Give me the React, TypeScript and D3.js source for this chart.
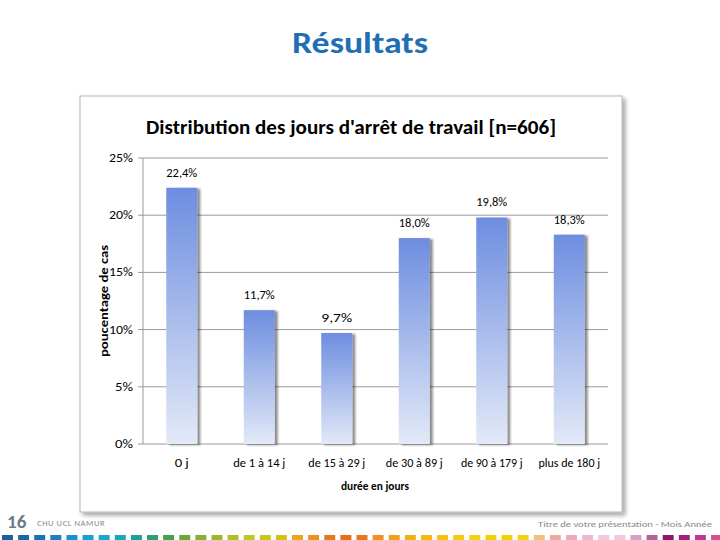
import React from 'react';
import * as d3 from 'd3';

const categories = ['0 j', 'de 1 à 14 j', 'de 15 à 29 j', 'de 30 à 89 j', 'de 90 à 179 j', 'plus de 180 j'];
const values = [22.4, 11.7, 9.7, 18.0, 19.8, 18.3];
const yTicks = [0, 5, 10, 15, 20, 25];

const stripColors = [
  '#1f5f9f', '#1b68a8', '#1873b5', '#1a80c0', '#1a90cc', '#19a0d0', '#1aa8c8', '#18a8b0', '#20a090',
  '#2aa078', '#4aa050', '#6aa83a', '#88b030', '#a0b828', '#b0c020', '#c0c820', '#c8c818', '#d8c010',
  '#e8a818', '#e89020', '#e87818', '#e87010', '#e87818', '#f09020', '#f0a018', '#f0b010', '#f8b810',
  '#f8c010', '#f8c810', '#f8d010', '#f8d000', '#f8d000', '#f8d010', '#f0c080', '#f0a8a0', '#f0a8c0',
  '#f0b8d0', '#f0c8e0', '#f0c8e0', '#d8a0c8', '#b86098', '#901870', '#a02080', '#c03890', '#d85090',
];

const W = 720;
const H = 540;
const font = 'Calibri, Carlito, Lato, "Open Sans", "Liberation Sans", sans-serif';

export default function App() {
  const x = d3.scaleBand<string>().domain(categories).range([143, 608]).paddingInner(0.6).paddingOuter(0.3);
  const y = d3.scaleLinear().domain([0, 25]).range([444, 158]);
  const fmt = (v: number) => v.toFixed(1).replace('.', ',') + '%';
  const stripX = d3.scaleBand<number>().domain(d3.range(stripColors.length)).range([2, 722]).paddingInner(0.32);

  return (
    <svg width={W} height={H} style={{ position: 'absolute', left: 0, top: 0 }}>
      <defs>
        <linearGradient id="barGrad" x1="0" y1="0" x2="0" y2="1">
          <stop offset="0%" stopColor="#6d8de0" />
          <stop offset="100%" stopColor="#e2e9f7" />
        </linearGradient>
        <filter id="shadow" x="-10%" y="-10%" width="130%" height="130%">
          <feDropShadow dx="3" dy="3" stdDeviation="2" floodColor="#000" floodOpacity="0.35" />
        </filter>
        <filter id="barShadow" x="-20%" y="-5%" width="150%" height="110%">
          <feDropShadow dx="3" dy="1" stdDeviation="1.2" floodColor="#000" floodOpacity="0.45" />
        </filter>
      </defs>
      <rect width={W} height={H} fill="#fff" />

      <text x={360} y={53} textAnchor="middle" fontFamily={font} fontWeight="bold" fontSize={30} fill="#1f6fb4"
        textLength={136} lengthAdjust="spacingAndGlyphs">
        Résultats
      </text>

      {/* chart frame */}
      <rect x={80} y={96} width={542} height={416} fill="#fff" stroke="#b4b4b4" strokeWidth={1} filter="url(#shadow)" />

      <text x={351} y={134} textAnchor="middle" fontFamily={font} fontWeight="bold" fontSize={21}
        fill="#000" textLength={410} lengthAdjust="spacingAndGlyphs">
        Distribution des jours d'arrêt de travail [n=606]
      </text>

      {/* grid */}
      {yTicks.map(t => (
        <g key={t}>
          <line x1={138} x2={608} y1={y(t)} y2={y(t)} stroke="#9a9a9a" strokeWidth={1} />
          <text x={133} y={y(t) + 4} textAnchor="end" fontFamily={font} fontSize={11.5} fill="#000"
            textLength={t < 10 ? 18 : 24} lengthAdjust="spacingAndGlyphs">
            {t}%
          </text>
        </g>
      ))}
      <line x1={143} x2={143} y1={158} y2={444} stroke="#9a9a9a" strokeWidth={1} />

      {/* bars */}
      {values.map((v, i) => (
        <g key={categories[i]}>
          <rect x={x(categories[i])!} y={y(v)} width={x.bandwidth()} height={y(0) - y(v)}
            fill="url(#barGrad)" filter="url(#barShadow)" />
          <text x={x(categories[i])! + x.bandwidth() / 2} y={y(v) - 11} textAnchor="middle"
            fontFamily={font} fontSize={12.5} fill="#000" textLength={31} lengthAdjust="spacingAndGlyphs">
            {fmt(v)}
          </text>
        </g>
      ))}

      {/* x labels */}
      {categories.map(c => (
        <text key={c} x={x(c)! + x.bandwidth() / 2} y={467} textAnchor="middle" fontFamily={font}
          fontSize={12.5} fill="#000" textLength={c.length * 4.75} lengthAdjust="spacingAndGlyphs">
          {c}
        </text>
      ))}
      <text x={375} y={490} textAnchor="middle" fontFamily={font} fontWeight="bold" fontSize={12.5} fill="#000"
        textLength={68} lengthAdjust="spacingAndGlyphs">
        durée en jours
      </text>
      <text transform="translate(108,301) rotate(-90)" textAnchor="middle" fontFamily={font} fontWeight="bold"
        fontSize={12.5} fill="#000" textLength={112} lengthAdjust="spacingAndGlyphs">
        poucentage de cas
      </text>

      {/* footer */}
      <text x={7} y={528} fontFamily={font} fontWeight="bold" fontSize={19} fill="#6a7a8a">16</text>
      <text x={37} y={526} fontFamily={font} fontSize={8.5} fill="#888" letterSpacing={0.6}>CHU UCL NAMUR</text>
      <text x={712} y={527} textAnchor="end" fontFamily={font} fontSize={9} fill="#888"
        textLength={174} lengthAdjust="spacingAndGlyphs">
        Titre de votre présentation - Mois Année
      </text>
      {stripColors.map((c, i) => (
        <rect key={i} x={stripX(i)!} y={535} width={stripX.bandwidth()} height={6} fill={c} />
      ))}
    </svg>
  );
}
